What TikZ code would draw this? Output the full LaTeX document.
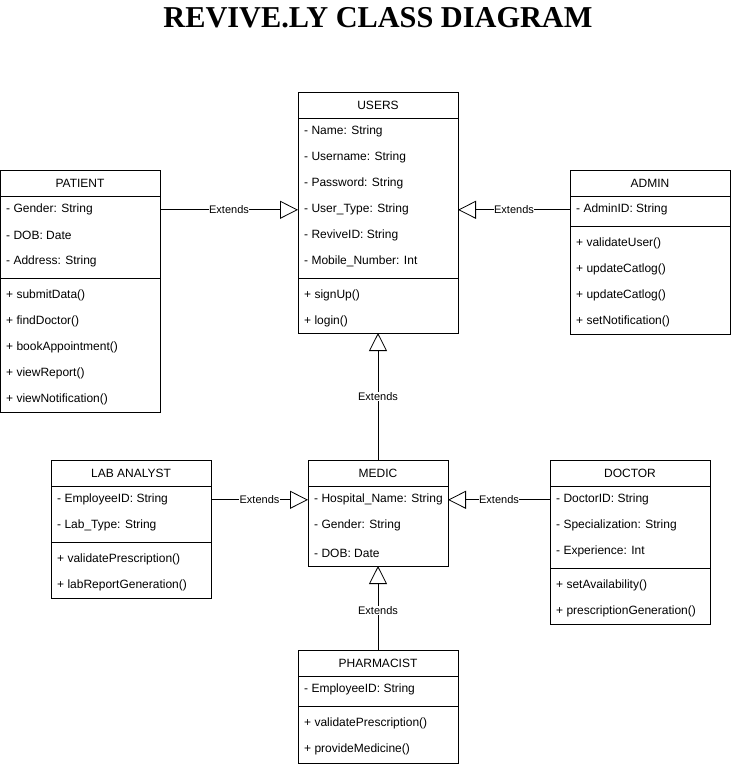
\documentclass[tikz,border=0pt]{standalone}
\usepackage{fontspec}
\setmainfont{Liberation Sans}
\newfontfamily\titlefont{Liberation Serif}
\usetikzlibrary{arrows.meta}
\tikzset{
  x=1pt, y=-1pt,
  classbox/.style={draw, line width=0.8pt, anchor=north west, inner sep=0pt, outer sep=0pt},
  sepline/.style={line width=0.8pt},
  hdr/.style={font=\fontsize{12}{14}\selectfont, inner sep=0pt, yshift=-0.8pt},
  row/.style={font=\fontsize{12}{14}\selectfont, anchor=west, inner sep=0pt, yshift=-0.8pt},
  ext/.style={line width=0.8pt, -{Triangle[open, length=18pt, width=18pt, fill=white]}},
  extlbl/.style={font=\fontsize{11}{13}\selectfont, fill=white, inner sep=0.5pt},
}
\begin{document}
\begin{tikzpicture}
\useasboundingbox (0,0) rectangle (731,766);
% title
\node[font=\titlefont\bfseries\fontsize{30.3}{34}\selectfont, inner sep=0pt, anchor=base] (title) at (378,27) {REVIVE.LY CLASS DIAGRAM};

% USERS
\node[classbox, minimum width=160pt, minimum height=241pt] (users) at (298,92) {};
\node[hdr] (users-h) at (378,105) {USERS};
\draw[sepline] (298,118) -- (458,118);
\node[row] (users-a1) at (304,131) {- Name: String};
\node[row] (users-a2) at (304,157) {- Username: String};
\node[row] (users-a3) at (304,183) {- Password: String};
\node[row] (users-a4) at (304,209) {- User\_Type: String};
\node[row] (users-a5) at (304,235) {- ReviveID: String};
\node[row] (users-a6) at (304,261) {- Mobile\_Number: Int};
\draw[sepline] (298,278) -- (458,278);
\node[row] (users-m1) at (304,295) {+ signUp()};
\node[row] (users-m2) at (304,321) {+ login()};

% PATIENT
\node[classbox, minimum width=160pt, minimum height=242pt] (patient) at (0,170) {};
\node[hdr] (patient-h) at (80,183) {PATIENT};
\draw[sepline] (0,196) -- (160,196);
\node[row] (patient-a1) at (6,209) {- Gender: String};
\node[row] (patient-a2) at (6,235) {- DOB: Date};
\node[row] (patient-a3) at (6,261) {- Address: String};
\draw[sepline] (0,278) -- (160,278);
\node[row] (patient-m1) at (6,295) {+ submitData()};
\node[row] (patient-m2) at (6,321) {+ findDoctor()};
\node[row] (patient-m3) at (6,347) {+ bookAppointment()};
\node[row] (patient-m4) at (6,373) {+ viewReport()};
\node[row] (patient-m5) at (6,399) {+ viewNotification()};

% ADMIN
\node[classbox, minimum width=160pt, minimum height=164pt] (admin) at (570,170) {};
\node[hdr] (admin-h) at (650,183) {ADMIN};
\draw[sepline] (570,196) -- (730,196);
\node[row] (admin-a1) at (576,209) {- AdminID: String};
\draw[sepline] (570,226) -- (730,226);
\node[row] (admin-m1) at (576,243) {+ validateUser()};
\node[row] (admin-m2) at (576,269) {+ updateCatlog()};
\node[row] (admin-m3) at (576,295) {+ updateCatlog()};
\node[row] (admin-m4) at (576,321) {+ setNotification()};

% MEDIC
\node[classbox, minimum width=140pt, minimum height=106pt] (medic) at (308,460) {};
\node[hdr] (medic-h) at (378,473) {MEDIC};
\draw[sepline] (308,486) -- (448,486);
\node[row] (medic-a1) at (314,499) {- Hospital\_Name: String};
\node[row] (medic-a2) at (314,525) {- Gender: String};
\node[row] (medic-a3) at (314,553) {- DOB: Date};

% LAB ANALYST
\node[classbox, minimum width=160pt, minimum height=138pt] (lab) at (51,460) {};
\node[hdr] (lab-h) at (131,473) {LAB ANALYST};
\draw[sepline] (51,486) -- (211,486);
\node[row] (lab-a1) at (57,499) {- EmployeeID: String};
\node[row] (lab-a2) at (57,525) {- Lab\_Type: String};
\draw[sepline] (51,542) -- (211,542);
\node[row] (lab-m1) at (57,559) {+ validatePrescription()};
\node[row] (lab-m2) at (57,585) {+ labReportGeneration()};

% DOCTOR
\node[classbox, minimum width=160pt, minimum height=164pt] (doctor) at (550,460) {};
\node[hdr] (doctor-h) at (630,473) {DOCTOR};
\draw[sepline] (550,486) -- (710,486);
\node[row] (doctor-a1) at (556,499) {- DoctorID: String};
\node[row] (doctor-a2) at (556,525) {- Specialization: String};
\node[row] (doctor-a3) at (556,551) {- Experience: Int};
\draw[sepline] (550,568) -- (710,568);
\node[row] (doctor-m1) at (556,585) {+ setAvailability()};
\node[row] (doctor-m2) at (556,611) {+ prescriptionGeneration()};

% PHARMACIST
\node[classbox, minimum width=160pt, minimum height=113pt] (pharm) at (298,650) {};
\node[hdr] (pharm-h) at (378,663) {PHARMACIST};
\draw[sepline] (298,676) -- (458,676);
\node[row] (pharm-a1) at (304,689) {- EmployeeID: String};
\draw[sepline] (298,706) -- (458,706);
\node[row] (pharm-m1) at (304,723) {+ validatePrescription()};
\node[row] (pharm-m2) at (304,749) {+ provideMedicine()};

% generalisations
\draw[ext] (patient.east |- users-a4) -- node[extlbl, pos=0.5] (l1) {Extends} (users.west |- users-a4);
\draw[ext] (admin.west |- admin-a1) -- node[extlbl, pos=0.5] (l2) {Extends} (users.east |- admin-a1);
\draw[ext] (medic.north) -- node[extlbl, pos=0.5] (l3) {Extends} (users.south);
\draw[ext] (lab.east |- lab-a1) -- node[extlbl, pos=0.5] (l4) {Extends} (medic.west |- lab-a1);
\draw[ext] (doctor.west |- doctor-a1) -- node[extlbl, pos=0.5] (l5) {Extends} (medic.east |- doctor-a1);
\draw[ext] (pharm.north) -- node[extlbl, pos=0.47] (l6) {Extends} (medic.south);
\end{tikzpicture}
\end{document}
